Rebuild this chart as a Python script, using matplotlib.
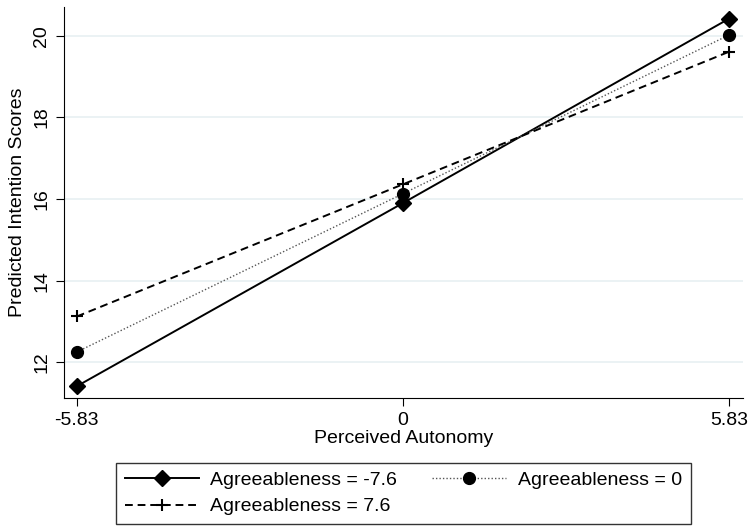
import matplotlib
matplotlib.use("Agg")
import matplotlib.pyplot as plt

plt.rcParams['font.family'] = ['Liberation Sans', 'DejaVu Sans']

# data
autonomy = [-5.83, 0, 5.83]
tick_labels = ['-5.83', '0', '5.83']
y_ticks = [12, 14, 16, 18, 20]
agree_low = [11.41, 15.90, 20.42]
agree_mid = [12.25, 16.13, 20.02]
agree_high = [13.12, 16.36, 19.61]
labels = ['Agreeableness = -7.6', 'Agreeableness = 0', 'Agreeableness = 7.6']

fig = plt.figure(figsize=(7.51, 5.26), dpi=100)
ax = fig.add_axes([0.0852, 0.2433, 0.9038, 0.7434])

l1, = ax.plot(autonomy, agree_low, color='black', lw=1.4, ls='-', marker='D', ms=8.5,
              label=labels[0])
l2, = ax.plot(autonomy, agree_mid, color='#555555', lw=1.0, ls=(0, (1, 1.5)), marker='o',
              ms=8.5, mfc='black', mec='black', label=labels[1])
l3, = ax.plot(autonomy, agree_high, color='black', lw=1.4, ls=(0, (4, 2.5)), marker='+',
              ms=8, mew=1.5, label=labels[2])

ax.set_xlim(-6.06, 6.08)
ax.set_ylim(11.12, 20.71)
ax.set_xticks(autonomy)
ax.set_xticklabels(tick_labels)
ax.set_yticks(y_ticks)
ax.set_yticklabels([str(v) for v in y_ticks], rotation=90, va='center')
ax.yaxis.grid(True, color='#e8f0f2', lw=1.2)
ax.set_axisbelow(True)
for s in ['top', 'right']:
    ax.spines[s].set_visible(False)
ax.tick_params(labelsize=14, length=6, pad=4)
ax.set_xlabel('Perceived Autonomy', fontsize=14, labelpad=1)
ax.set_ylabel('Predicted Intention Scores', fontsize=14, labelpad=5)

# column-major fill gives rows: (low, mid), (high)
leg = fig.legend([l1, l3, l2], [labels[0], labels[2], labels[1]],
                 loc='lower center', bbox_to_anchor=(0.537, 0.0), ncol=2, fontsize=14,
                 frameon=True, fancybox=False, edgecolor='black', handlelength=3.8,
                 handletextpad=0.6, columnspacing=1.8, borderpad=0.45,
                 labelspacing=0.45, borderaxespad=0.1)
leg.get_frame().set_linewidth(1.0)

fig.savefig('out.png', dpi=100)
